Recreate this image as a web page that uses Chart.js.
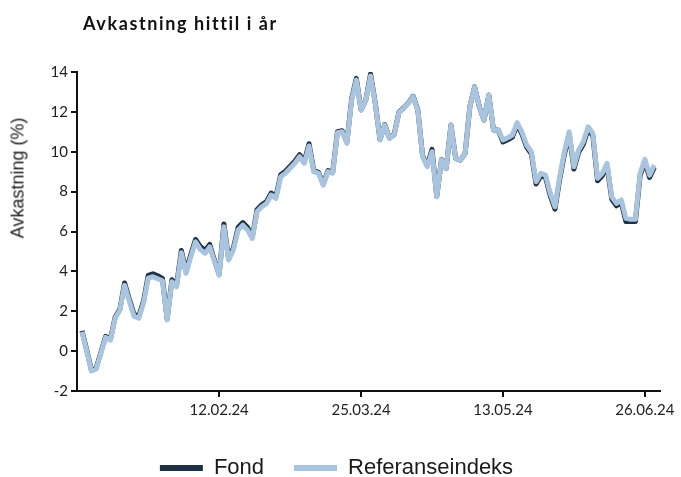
<!DOCTYPE html>
<html>
<head>
<meta charset="utf-8">
<script src="https://cdn.jsdelivr.net/npm/chart.js@4.4.1/dist/chart.umd.min.js"></script>
<style>
  html, body { margin: 0; padding: 0; background: #fff; }
  #wrap { position: relative; width: 681px; height: 477px; }
  #title { position: absolute; left: 83px; top: 12px; font: bold 18px Lato, sans-serif; letter-spacing: 1.6px; color: #111; }
  #ytitle { position: absolute; left: 18px; top: 178px; transform: translate(-50%, -50%) rotate(-90deg);
    font: 18px "Liberation Sans", Arial, sans-serif; white-space: nowrap; color: #222; }
  canvas { position: absolute; left: 0; top: 0; }
</style>
</head>
<body>
<div id="wrap">
  <canvas id="chart" width="681" height="477"></canvas>
  <div id="title">Avkastning hittil i år</div>
  <div id="ytitle">Avkastning (%)</div>
</div>
<script>
// trading days from start of year, one value per day (%)
const tickPos = [29, 59, 89, 119];
const tickLabels = ['12.02.24', '25.03.24', '13.05.24', '26.06.24'];

const fondValues = [
  1.02, 0.05, -0.95, -0.85, -0.05, 0.74, 0.6, 1.7, 2.1, 3.42,
  2.6, 1.85, 1.75, 2.5, 3.8, 3.88, 3.78, 3.65, 1.6, 3.58,
  3.33, 5.05, 4.0, 4.85, 5.6, 5.25, 5.05, 5.35, 4.55, 3.85,
  6.38, 4.62, 5.17, 6.2, 6.45, 6.2, 5.72, 7.09, 7.34, 7.5,
  7.93, 7.76, 8.85, 9.02, 9.27, 9.52, 9.85, 9.52, 10.4, 9.05,
  8.97, 8.38, 9.05, 8.97, 11.0, 11.05, 10.47, 12.65, 13.68, 12.1,
  12.6, 13.9, 12.45, 10.61, 11.36, 10.69, 10.86, 11.98, 12.2, 12.45,
  12.78, 12.11, 9.8, 9.3, 10.12, 7.76, 9.6, 9.17, 11.34, 9.67,
  9.58, 9.92, 12.26, 13.26, 12.26, 11.59, 12.84, 11.09, 11.09, 10.49,
  10.6, 10.74, 11.36, 10.9, 10.24, 9.9, 8.38, 8.8, 8.71, 7.79,
  7.12, 8.63, 9.88, 10.88, 9.13, 9.97, 10.38, 11.13, 10.8, 8.55,
  8.8, 9.3, 7.62, 7.29, 7.46, 6.5, 6.5, 6.5, 8.8, 9.5,
  8.71, 9.21
];

const refValues = [
  0.97, 0.0, -1.0, -0.9, -0.1, 0.69, 0.55, 1.65, 2.05, 3.3,
  2.5, 1.75, 1.65, 2.4, 3.66, 3.73, 3.63, 3.53, 1.56, 3.48,
  3.23, 4.93, 3.9, 4.73, 5.48, 5.1, 4.9, 5.23, 4.5, 3.81,
  6.24, 4.57, 5.07, 6.07, 6.32, 6.07, 5.65, 6.99, 7.24, 7.4,
  7.83, 7.66, 8.75, 8.92, 9.17, 9.42, 9.75, 9.42, 10.29, 9.0,
  8.92, 8.33, 9.0, 8.92, 10.95, 11.0, 10.42, 12.59, 13.6, 12.09,
  12.59, 13.8, 12.43, 10.59, 11.34, 10.67, 10.84, 11.96, 12.18, 12.43,
  12.76, 12.09, 9.75, 9.25, 10.0, 7.74, 9.58, 9.17, 11.34, 9.67,
  9.58, 9.92, 12.26, 13.26, 12.26, 11.59, 12.84, 11.09, 11.09, 10.59,
  10.7, 10.84, 11.46, 11.0, 10.34, 10.0, 8.5, 8.92, 8.83, 7.91,
  7.24, 8.75, 10.0, 11.0, 9.25, 10.09, 10.5, 11.25, 10.92, 8.67,
  8.92, 9.42, 7.74, 7.41, 7.58, 6.66, 6.61, 6.61, 8.92, 9.62,
  8.83, 9.33
];

const fondColor = '#1e3044';
const refColor = '#a9c4de';

function toPoints(values) {
  return values.map((v, i) => ({ x: i, y: v }));
}

const ctx = document.getElementById('chart');
new Chart(ctx, {
  type: 'line',
  data: {
    datasets: [
      {
        label: 'Fond',
        data: toPoints(fondValues),
        borderColor: fondColor,
        backgroundColor: fondColor,
        borderWidth: 5,
        pointRadius: 0,
        tension: 0,
        borderJoinStyle: 'round',
        order: 2
      },
      {
        label: 'Referanseindeks',
        data: toPoints(refValues),
        borderColor: refColor,
        backgroundColor: refColor,
        borderWidth: 5,
        pointRadius: 0,
        tension: 0,
        borderJoinStyle: 'round',
        order: 1
      }
    ]
  },
  options: {
    responsive: false,
    animation: false,
    layout: { padding: { top: 72, right: 21, left: 13, bottom: -12 } },
    plugins: {
      tooltip: { enabled: false },
      legend: {
        position: 'bottom',
        labels: {
          boxWidth: 43,
          boxHeight: 6,
          padding: 30,
          color: '#1a1a1a',
          font: { family: '"Liberation Sans", Arial, sans-serif', size: 22 },
          sort: (a, b) => a.datasetIndex - b.datasetIndex,
          generateLabels: (chart) => {
            const items = Chart.defaults.plugins.legend.labels.generateLabels(chart);
            items.forEach((it) => { it.lineWidth = 0; });
            return items;
          }
        }
      }
    },
    scales: {
      x: {
        type: 'linear',
        min: -1.06,
        max: 122.2,
        afterBuildTicks: (scale) => {
          scale.ticks = tickPos.map((p) => ({ value: p }));
        },
        afterFit: (scale) => { scale.height = 36; },
        border: { color: '#111', width: 2 },
        grid: { drawOnChartArea: false, drawTicks: true, tickLength: 6, color: '#111', lineWidth: 2 },
        ticks: {
          autoSkip: false,
          maxRotation: 0,
          padding: 4,
          color: '#222',
          font: { family: 'Lato, sans-serif', size: 15 },
          callback: (value) => tickLabels[tickPos.indexOf(value)]
        }
      },
      y: {
        min: -2,
        max: 14,
        afterFit: (scale) => { scale.width = 64; },
        border: { color: '#111', width: 2 },
        grid: { drawOnChartArea: false, drawTicks: true, tickLength: 6, color: '#111', lineWidth: 2 },
        ticks: {
          stepSize: 2,
          padding: 3,
          color: '#222',
          font: { family: 'Lato, sans-serif', size: 15 }
        }
      }
    }
  }
});
</script>
</body>
</html>
